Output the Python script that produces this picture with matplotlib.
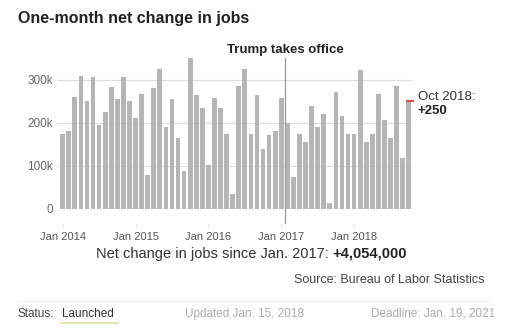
import pandas as pd
from matplotlib import pyplot as plt

# Monthly net change in jobs (thousands), Jan 2014 - Oct 2018
months = pd.date_range("2014-01-01", "2018-10-01", freq="MS")
jobs = [
    174, 181, 261, 310, 252, 306, 196, 226, 284, 255, 307, 251,
    211, 267, 79, 282, 326, 191, 256, 164, 88, 351, 264, 234,
    103, 257, 235, 174, 34, 285, 325, 175, 264, 139, 172, 180,
    259, 200, 73, 175, 155, 239, 190, 221, 14, 271, 216, 175,
    175, 323, 155, 175, 267, 207, 165, 286, 118, 250,
]
y_ticks = [0, 100, 200, 300]
y_tick_labels = ["0", "100k", "200k", "300k"]
x_tick_labels = ["Jan 2014", "Jan 2015", "Jan 2016", "Jan 2017", "Jan 2018"]
office_date = pd.Timestamp("2017-01-20")


def main():
    plt.rcParams["font.family"] = ["Liberation Sans", "DejaVu Sans"]
    W, H = 506, 332
    fig = plt.figure(figsize=(W / 100, H / 100), dpi=100)
    fig.patch.set_facecolor("white")

    # axes placed in pixel units
    left, right, top, bottom = 57, 412, 56.4, 208.7
    ax = fig.add_axes([left / W, 1 - bottom / H, (right - left) / W, (bottom - top) / H])

    x = list(range(len(months)))
    ax.bar(x, jobs, width=0.78, color="#b5b5b5", zorder=2)

    # marker on the latest month
    ax.plot([x[-1] - 0.45, x[-1] + 0.85], [jobs[-1], jobs[-1]], color="#d9534f",
            lw=1.6, solid_capstyle="butt", clip_on=False, zorder=3)

    # inauguration line
    m = months.get_loc(pd.Timestamp("2017-01-01"))
    office_x = m + (office_date.day - 1) / 31
    ax.plot([office_x, office_x], [-34, 351], color="#999999", lw=0.9,
            clip_on=False, zorder=3)
    ax.text(office_x, 356, "Trump takes office", ha="center", va="bottom",
            fontsize=9.5, fontweight="bold", color="#222222")

    ax.set_xlim(-0.94, 57.54)
    ax.set_ylim(0, 355)
    ax.set_yticks(y_ticks)
    ax.set_yticklabels(y_tick_labels)
    ax.grid(axis="y", color="#dddddd", lw=0.8, zorder=0)
    jan_idx = [i for i, d in enumerate(months) if d.month == 1]
    ax.set_xticks(jan_idx)
    ax.set_xticklabels(x_tick_labels)
    ax.tick_params(axis="y", length=0, pad=3, labelsize=8.5, labelcolor="#666666")
    ax.tick_params(axis="x", length=3, width=0.6, color="#dddddd", pad=3,
                   labelsize=8, labelcolor="#555555")
    for side in ["left", "right", "top"]:
        ax.spines[side].set_visible(False)
    ax.spines["bottom"].set_position(("outward", 11))
    ax.spines["bottom"].set_color("none")
    ax.set_facecolor("none")

    # labels for latest month
    ax.text(58.5, 260, "Oct 2018:", fontsize=9.5, color="#333333", va="center", clip_on=False)
    ax.text(58.5, 228, "+250", fontsize=9.5, fontweight="bold", color="#222222",
            va="center", clip_on=False)

    # title
    fig.text(18 / W, 1 - 19 / H, "One-month net change in jobs", fontsize=11.5,
             fontweight="bold", color="#222222", va="center")

    # summary line
    t1 = fig.text(96 / W, 1 - 254 / H, "Net change in jobs since Jan. 2017: ",
                  fontsize=10.5, color="#333333", va="center")
    fig.canvas.draw()
    bb = t1.get_window_extent()
    fig.text(bb.x1 / W, 1 - 254 / H, "+4,054,000", fontsize=10.5, fontweight="bold",
             color="#222222", va="center")

    fig.text(485 / W, 1 - 280 / H, "Source: Bureau of Labor Statistics", fontsize=9,
             color="#444444", ha="right", va="center")

    # separator and footer
    fig.add_artist(plt.Line2D([17 / W, 490 / W], [1 - 301 / H, 1 - 301 / H],
                              color="#eeeeee", lw=0.8))
    fig.text(18 / W, 1 - 314 / H, "Status:", fontsize=8.5, color="#444444", va="center")
    fig.text(62 / W, 1 - 314 / H, "Launched", fontsize=8.5, color="#333333", va="center")
    fig.add_artist(plt.Line2D([61 / W, 118 / W], [1 - 323 / H, 1 - 323 / H],
                              color="#e8e0a8", lw=1.2))
    fig.text(245 / W, 1 - 314 / H, "Updated Jan. 15, 2018", fontsize=8.5,
             color="#aaaaaa", ha="center", va="center")
    fig.text(495 / W, 1 - 314 / H, "Deadline: Jan. 19, 2021", fontsize=8.5,
             color="#aaaaaa", ha="right", va="center")

    fig.savefig("out.png", dpi=100)


if __name__ == "__main__":
    main()
